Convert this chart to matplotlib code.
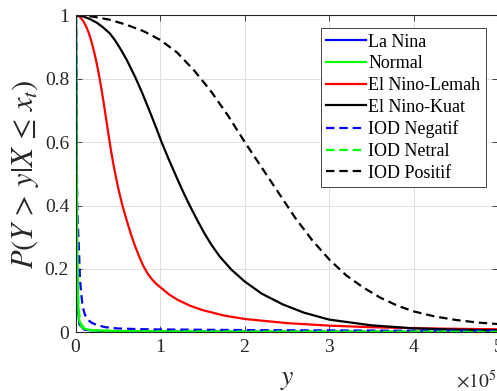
#!/usr/bin/env python3
"""
Peluang bersyarat P(Y > y | X <= x_t) untuk tiap kondisi iklim
"""

import numpy as np
import matplotlib
matplotlib.use('Agg')
import matplotlib.pyplot as plt
from matplotlib.ticker import ScalarFormatter, FuncFormatter

# --- data (x dalam satuan 1e5) ---
la_nina_x = [0, 0.002, 0.005, 0.01, 0.02, 0.04, 0.1, 0.3, 1.0, 5.0]
la_nina_y = [1, 0.8, 0.5, 0.25, 0.08, 0.025, 0.008, 0.004, 0.002, 0.001]

normal_x = [0, 0.003, 0.006, 0.01, 0.015, 0.022, 0.03, 0.04, 0.067, 0.1, 0.166, 0.3, 0.5, 1.0, 2.0, 5.0]
normal_y = [1, 0.85, 0.6, 0.4, 0.25, 0.12, 0.06, 0.035, 0.017, 0.011, 0.007, 0.005, 0.004, 0.003, 0.0025, 0.002]

lemah_x = [0, 0.03, 0.06, 0.09, 0.12, 0.15, 0.18, 0.21, 0.24, 0.27, 0.30, 0.33, 0.36, 0.39,
           0.42, 0.45, 0.5, 0.55, 0.6, 0.65, 0.7, 0.75, 0.8, 0.85, 0.9, 0.95, 1.0, 1.1, 1.2,
           1.35, 1.5, 1.75, 2.0, 2.5, 3.0, 3.5, 4.0, 4.5, 5.0]
lemah_y = [1, 0.998, 0.991, 0.98, 0.965, 0.945, 0.92, 0.89, 0.855, 0.815, 0.77, 0.72, 0.668,
           0.615, 0.565, 0.52, 0.455, 0.4, 0.354, 0.31, 0.272, 0.238, 0.208, 0.185, 0.167,
           0.153, 0.142, 0.12, 0.103, 0.084, 0.07, 0.053, 0.042, 0.029, 0.021, 0.016, 0.013,
           0.011, 0.0095]

kuat_x = [0, 0.08, 0.166, 0.25, 0.32, 0.4, 0.46, 0.52, 0.6, 0.7, 0.78, 0.864, 0.94, 1.014,
          1.1, 1.2, 1.28, 1.357, 1.44, 1.52, 1.6, 1.7, 1.84, 2.0, 2.2, 2.45, 2.7, 3.0, 3.5,
          4.0, 4.5, 5.0]
kuat_y = [1, 0.997, 0.988, 0.976, 0.962, 0.943, 0.922, 0.897, 0.86, 0.806, 0.758, 0.703,
          0.652, 0.6, 0.545, 0.484, 0.437, 0.395, 0.352, 0.313, 0.278, 0.24, 0.198, 0.16,
          0.122, 0.088, 0.062, 0.04, 0.022, 0.0125, 0.0085, 0.006]

iod_neg_x = [0, 0.004, 0.008, 0.012, 0.015, 0.025, 0.035, 0.047, 0.06, 0.075, 0.09, 0.106,
             0.14, 0.18, 0.245, 0.35, 0.5, 0.75, 1.0, 2.0, 3.0, 4.0, 5.0]
iod_neg_y = [1, 0.85, 0.65, 0.48, 0.39, 0.32, 0.26, 0.17, 0.125, 0.091, 0.07, 0.055,
             0.04, 0.031, 0.023, 0.016, 0.012, 0.010, 0.009, 0.007, 0.006, 0.005, 0.0045]

iod_net_x = [0, 0.004, 0.008, 0.012, 0.02, 0.03, 0.05, 0.1, 0.2, 0.5, 1.0, 5.0]
iod_net_y = [1, 0.8, 0.55, 0.38, 0.18, 0.08, 0.03, 0.012, 0.006, 0.004, 0.003, 0.0015]

iod_pos_x = [0, 0.2, 0.4, 0.6, 0.8, 1.0, 1.2, 1.4, 1.6, 1.8, 2.0, 2.2, 2.4, 2.6, 2.8, 3.0,
             3.2, 3.4, 3.6, 3.8, 4.0, 4.25, 4.5, 4.75, 5.0]
iod_pos_y = [1, 0.996, 0.986, 0.97, 0.95, 0.922, 0.882, 0.826, 0.76, 0.684, 0.6, 0.52,
             0.44, 0.36, 0.29, 0.23, 0.18, 0.142, 0.11, 0.085, 0.066, 0.05, 0.039, 0.031, 0.026]

labels = ['La Nina', 'Normal', 'El Nino-Lemah', 'El Nino-Kuat',
          'IOD Negatif', 'IOD Netral', 'IOD Positif']
x_ticks = [0, 1e5, 2e5, 3e5, 4e5, 5e5]
y_ticks = [0, 0.2, 0.4, 0.6, 0.8, 1]

plt.rcParams['font.family'] = 'serif'
plt.rcParams['font.serif'] = ['Liberation Serif', 'Nimbus Roman', 'DejaVu Serif']
plt.rcParams['mathtext.fontset'] = 'stix'

fig = plt.figure(figsize=(4.97, 3.91), dpi=100)
ax = fig.add_axes([76 / 497, 58.7 / 391, 422 / 497, 317 / 391])

series = [
    (la_nina_x, la_nina_y, 'b', '-'),
    (normal_x, normal_y, (0, 1, 0), '-'),
    (lemah_x, lemah_y, 'r', '-'),
    (kuat_x, kuat_y, 'k', '-'),
    (iod_neg_x, iod_neg_y, 'b', '--'),
    (iod_net_x, iod_net_y, (0, 1, 0), '--'),
    (iod_pos_x, iod_pos_y, 'k', '--'),
]
for (xs, ys, c, ls), lab in zip(series, labels):
    line, = ax.plot(np.array(xs) * 1e5, ys, color=c, linestyle=ls, linewidth=1.6, label=lab)
    if ls == '--':
        line.set_dashes((3.8, 2.2))

ax.set_xlim(0, 5e5)
ax.set_ylim(0, 1)
ax.set_xticks(x_ticks)
ax.set_yticks(y_ticks)
fmt = ScalarFormatter(useMathText=True)
fmt.set_powerlimits((0, 0))
ax.xaxis.set_major_formatter(fmt)
ax.yaxis.set_major_formatter(FuncFormatter(lambda v, p: f'{v:g}'))
# faktor skala digambar sendiri supaya posisinya sama dengan MATLAB
ax.xaxis.get_offset_text().set_visible(False)
ax.text(0.9955, -0.176, r'$\times10^{5}$', transform=ax.transAxes, ha='right',
        va='baseline', fontsize=14, color='0.15')

ax.tick_params(direction='in', top=True, right=True, length=4, width=0.6,
               labelsize=14, colors='0.15', pad=5)
ax.grid(True, color='0.88', linewidth=0.7)
ax.set_axisbelow(True)
for s in ax.spines.values():
    s.set_linewidth(0.8)
    s.set_color('0.15')

ax.set_xlabel(r'$y$', fontsize=20, color='0.15', labelpad=8)
ax.set_ylabel(r'$P(Y\,>\,y|X\,\leq\,x_t)$', fontsize=22, color='0.15', labelpad=3)

leg = ax.legend(loc='upper right', bbox_to_anchor=(0.9716, 0.959), borderaxespad=0,
                fontsize=13, handlelength=2.2, handletextpad=0.15, labelspacing=0.26,
                borderpad=0.3, fancybox=False, framealpha=1, edgecolor='0.15')
leg.get_frame().set_linewidth(0.6)

plt.savefig('out.png', dpi=100)
plt.close()
